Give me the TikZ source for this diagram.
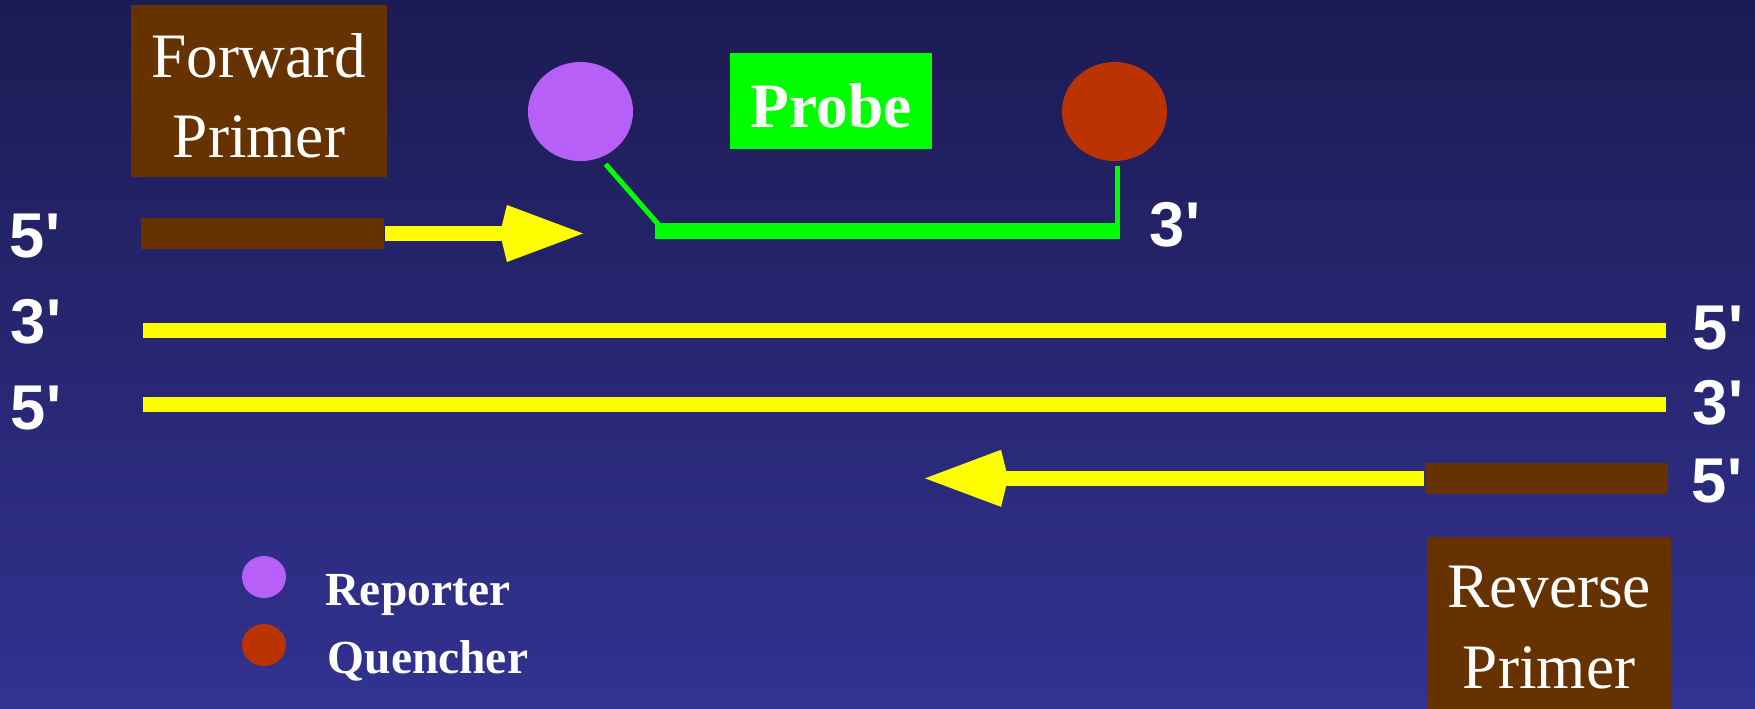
\documentclass[tikz,border=0pt]{standalone}
\usepackage{fontspec}
\setmainfont{Liberation Serif}
\newfontfamily\labelsans{Liberation Sans}
\usetikzlibrary{arrows.meta,shapes.geometric,positioning}
\definecolor{bgtop}{RGB}{28,27,83}
\definecolor{bgbot}{RGB}{50,50,145}
\definecolor{primerbrown}{RGB}{102,51,0}
\definecolor{dnayellow}{RGB}{255,255,0}
\definecolor{probegreen}{RGB}{0,255,0}
\definecolor{reportercol}{RGB}{182,96,248}
\definecolor{quenchercol}{RGB}{187,51,0}
\newcommand{\primelbl}[1]{#1\textquotesingle}
\newcommand{\boxline}[1]{\raisebox{-1.3pt}[\height][\depth]{#1}}
\tikzset{
  primerbox/.style={fill=primerbrown,text=white,align=center,minimum height=1.72cm,inner sep=0pt,font=\fontsize{18}{22.8}\selectfont},
  primerbar/.style={fill=primerbrown,minimum height=0.31cm,inner sep=0pt},
  strand/.style={draw=dnayellow,line width=0.156cm},
  extend/.style={draw=dnayellow,line width=0.15cm,-{Kite[length=0.83cm,width=0.57cm,inset=0.07cm]}},
  endlabel/.style={text=white,inner sep=0pt,font=\labelsans\bfseries\fontsize{18}{20}\selectfont},
  dye/.style={ellipse,inner sep=0pt,minimum width=1.05cm,minimum height=0.99cm},
  keydot/.style={ellipse,inner sep=0pt,minimum width=0.44cm,minimum height=0.42cm},
  keytext/.style={text=white,inner sep=0pt,anchor=base west,font=\bfseries\fontsize{13.5}{16}\selectfont},
  probelink/.style={draw=probegreen,line width=0.05cm},
}
\begin{document}
\begin{tikzpicture}[x=0.01cm,y=-0.01cm]
\shade[top color=bgtop,bottom color=bgbot] (0,0) rectangle (1755,708);
\useasboundingbox (0,0) rectangle (1755,708);
% primer labels and probe
\node[primerbox,minimum width=2.56cm] (fwdbox) at (259,91) {\boxline{Forward}\\\boxline{Primer}};
\node[primerbox,minimum width=2.44cm] (revbox) at (1549,623) {\boxline{Reverse}\\\boxline{Primer}};
\node[fill=probegreen,text=white,minimum width=2.02cm,minimum height=0.96cm,inner sep=0pt,font=\bfseries\fontsize{18}{20}\selectfont] (probe) at (831,101) {\boxline{Probe}};
\node[dye,fill=reportercol] (reporter) at (580.5,111.5) {};
\node[dye,fill=quenchercol] (quencher) at (1114.5,111.5) {};
% probe body
\coordinate (pbleft) at (655,230.7);
\coordinate (pbright) at (1120,230.7);
\coordinate (pbknee) at (658,224);
\coordinate (pbtail) at (1117.5,238.7);
\draw[draw=probegreen,line width=0.16cm] (pbleft) -- (pbright);
\draw[probelink,shorten <=0.08cm] (reporter.-67) -- (pbknee);
\draw[probelink,shorten >=0.04cm] (pbtail) -- (pbtail |- quencher.south);
\node[endlabel] (probe3) at (1175,225) {\primelbl{3}};
% template strands
\coordinate (top3) at (143,330.5);
\coordinate (top5) at (1666,330.5);
\coordinate (bot5) at (143,404.5);
\coordinate (bot3) at (1666,404.5);
\draw[strand] (top3) -- (top5);
\draw[strand] (bot5) -- (bot3);
% primers
\node[primerbar,minimum width=2.434cm] (fwdbar) at (262.3,233.5) {};
\coordinate (fwdtip) at (583,233.5);
\draw[extend] (fwdbar.east) -- (fwdtip);
\node[primerbar,minimum width=2.43cm] (revbar) at (1546.5,478.3) {};
\coordinate (revtip) at (925,478.3);
\draw[extend] (revbar.west) -- (revtip);
% strand ends
\node[endlabel] (fwd5) at (35,236.5) {\primelbl{5}};
\node[endlabel] (left3) at (36,322) {\primelbl{3}};
\node[endlabel] (left5) at (36,408) {\primelbl{5}};
\node[endlabel] (right5) at (1718,328) {\primelbl{5}};
\node[endlabel] (right3) at (1718,403) {\primelbl{3}};
\node[endlabel] (rev5) at (1717,481) {\primelbl{5}};
% legend
\node[keydot,fill=reportercol] (repkey) at (264,577) {};
\node[keydot,fill=quenchercol] (quekey) at (264,645) {};
\node[keytext] (reptext) at (325,605.7) {Reporter};
\node[keytext] (quetext) at (327,673) {Quencher};
\end{tikzpicture}
\end{document}
